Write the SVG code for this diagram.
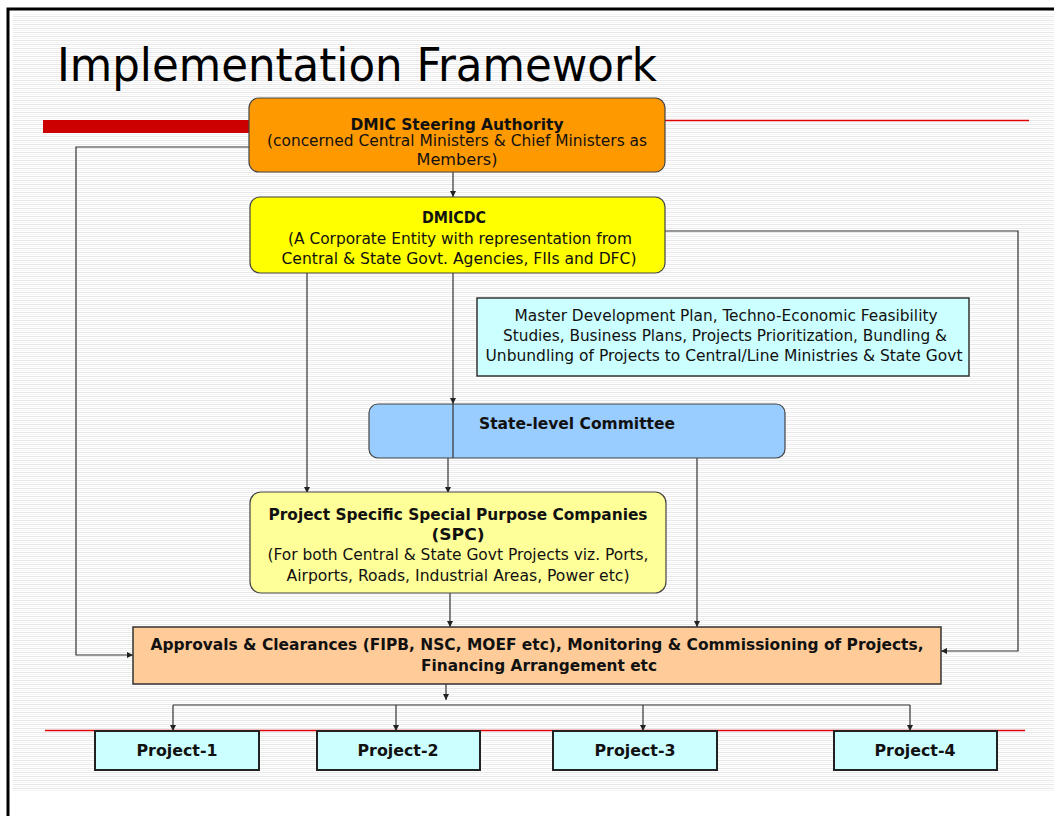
<svg xmlns="http://www.w3.org/2000/svg" width="1054" height="816" viewBox="0 0 1054 816">
<defs>
<pattern id="stripes" x="0" y="0" width="8" height="4" patternUnits="userSpaceOnUse">
<rect width="8" height="4" fill="#ffffff"/>
<rect y="0" width="8" height="1" fill="#e8e8e8"/>
<rect y="2" width="8" height="1" fill="#f4f4f4"/>
</pattern>
<marker id="arr" viewBox="0 0 10 10" refX="10" refY="5" markerWidth="6" markerHeight="6" orient="auto" markerUnits="userSpaceOnUse">
<path d="M0,0 L10,5 L0,10 z" fill="#222"/>
</marker>
<style>
.t{font-family:"DejaVu Sans Condensed","DejaVu Sans",sans-serif;font-size:15px;fill:#111;text-anchor:middle}
.b{font-weight:bold}
.c{fill:none;stroke:#333;stroke-width:1.2}
.ca{fill:none;stroke:#333;stroke-width:1.2;marker-end:url(#arr)}
.box{stroke:#444;stroke-width:1.2}
.pbox{fill:#ccffff;stroke:#222;stroke-width:2}
</style>
</defs>
<rect width="1054" height="816" fill="#ffffff"/>
<rect x="13" y="13" width="1041" height="779" fill="url(#stripes)"/>
<path d="M8,816 V9 H1054" fill="none" stroke="#000" stroke-width="3"/>
<text x="57" y="81" font-family="'DejaVu Sans Condensed','DejaVu Sans',sans-serif" font-size="47" fill="#000" textLength="600" lengthAdjust="spacingAndGlyphs">Implementation Framework</text>
<rect x="43" y="120" width="207" height="13" fill="#cc0000"/>
<line x1="665" y1="120.5" x2="1029" y2="120.5" stroke="#e00000" stroke-width="1.5"/>
<line x1="45" y1="730.5" x2="1025" y2="730.5" stroke="#e00000" stroke-width="1.5"/>

<g id="connectors">
<path class="ca" d="M249,147 H76 V655 H133"/>
<path class="ca" d="M665,231 H1018 V651 H941"/>
<path class="ca" d="M453,172 V197"/>
<path class="ca" d="M307,273 V493"/>
<path class="ca" d="M453,273 V404"/>
<path class="c" d="M453,404 V458"/>
<path class="ca" d="M448,458 V493"/>
<path class="ca" d="M697,458 V627"/>
<path class="ca" d="M450,593 V627"/>
<path class="ca" d="M446,684 V700"/>
<path class="c" d="M173,705 H910"/>
<path class="ca" d="M173,705 V731"/>
<path class="ca" d="M396,705 V731"/>
<path class="ca" d="M643,705 V731"/>
<path class="ca" d="M910,705 V731"/>
</g>

<g id="steering">
<rect class="box" x="249" y="98" width="416" height="74" rx="10" fill="#ff9900"/>
<text class="t b" x="457" y="130" textLength="213" lengthAdjust="spacingAndGlyphs">DMIC Steering Authority</text>
<text class="t" x="457" y="146" textLength="380" lengthAdjust="spacingAndGlyphs">(concerned Central Ministers &amp; Chief Ministers as</text>
<text class="t" x="457" y="165" textLength="81" lengthAdjust="spacingAndGlyphs">Members)</text>
</g>

<g id="dmicdc">
<rect class="box" x="250" y="197" width="415" height="76" rx="10" fill="#ffff00"/>
<text class="t b" x="454" y="223" textLength="64" lengthAdjust="spacingAndGlyphs">DMICDC</text>
<text class="t" x="460" y="244" textLength="344" lengthAdjust="spacingAndGlyphs">(A Corporate Entity with representation from</text>
<text class="t" x="459" y="264" textLength="355" lengthAdjust="spacingAndGlyphs">Central &amp; State Govt. Agencies, FIIs and DFC)</text>
</g>

<g id="master-plan">
<rect x="477" y="298" width="492" height="78" fill="#ccffff" stroke="#333" stroke-width="1.5"/>
<text class="t" x="726" y="321" textLength="423" lengthAdjust="spacingAndGlyphs">Master Development Plan, Techno-Economic Feasibility</text>
<text class="t" x="725" y="341" textLength="444" lengthAdjust="spacingAndGlyphs">Studies, Business Plans, Projects Prioritization, Bundling &amp;</text>
<text class="t" x="724" y="361" textLength="477" lengthAdjust="spacingAndGlyphs">Unbundling of Projects to Central/Line Ministries &amp; State Govt</text>
</g>

<g id="state-committee">
<rect class="box" x="369" y="404" width="416" height="54" rx="9" fill="#99ccff"/>
<path class="c" d="M453,404 V458"/>
<text class="t b" x="577" y="429" textLength="196" lengthAdjust="spacingAndGlyphs">State-level Committee</text>
</g>

<g id="spc">
<rect class="box" x="250" y="492" width="416" height="101" rx="11" fill="#ffff99"/>
<text class="t b" x="458" y="520" textLength="379" lengthAdjust="spacingAndGlyphs">Project Specific Special Purpose Companies</text>
<text class="t b" x="458" y="540" textLength="53" lengthAdjust="spacingAndGlyphs">(SPC)</text>
<text class="t" x="458" y="560" textLength="381" lengthAdjust="spacingAndGlyphs">(For both Central &amp; State Govt Projects viz. Ports,</text>
<text class="t" x="458" y="581" textLength="343" lengthAdjust="spacingAndGlyphs">Airports, Roads, Industrial Areas, Power etc)</text>
</g>

<g id="approvals">
<rect x="133" y="627" width="808" height="57" fill="#ffcc99" stroke="#333" stroke-width="1.5"/>
<text class="t b" x="537" y="650" textLength="773" lengthAdjust="spacingAndGlyphs">Approvals &amp; Clearances (FIPB, NSC, MOEF etc), Monitoring &amp; Commissioning of Projects,</text>
<text class="t b" x="539" y="671" textLength="236" lengthAdjust="spacingAndGlyphs">Financing Arrangement etc</text>
</g>

<g id="project-1">
<rect class="pbox" x="95" y="731" width="164" height="39"/>
<text class="t b" x="177" y="756" textLength="81" lengthAdjust="spacingAndGlyphs">Project-1</text>
</g>
<g id="project-2">
<rect class="pbox" x="317" y="731" width="163" height="39"/>
<text class="t b" x="398" y="756" textLength="81" lengthAdjust="spacingAndGlyphs">Project-2</text>
</g>
<g id="project-3">
<rect class="pbox" x="553" y="731" width="164" height="39"/>
<text class="t b" x="635" y="756" textLength="81" lengthAdjust="spacingAndGlyphs">Project-3</text>
</g>
<g id="project-4">
<rect class="pbox" x="834" y="731" width="163" height="39"/>
<text class="t b" x="915" y="756" textLength="81" lengthAdjust="spacingAndGlyphs">Project-4</text>
</g>
</svg>
